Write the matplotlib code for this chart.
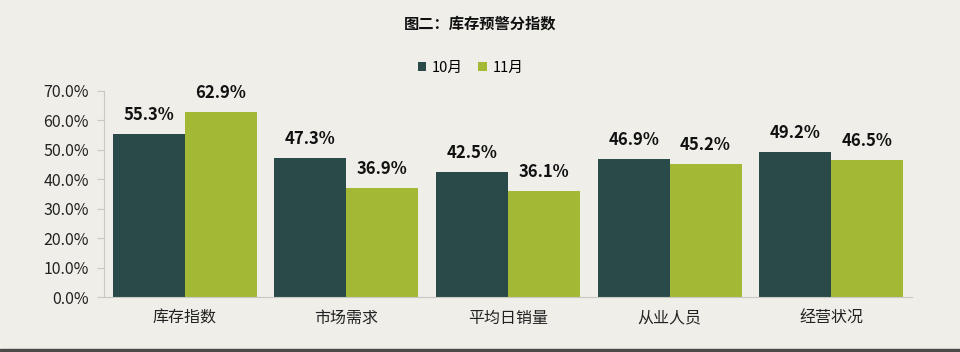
import numpy as np
import matplotlib.pyplot as plt
from matplotlib.patches import Rectangle

plt.rcParams['font.family'] = ['Noto Sans CJK SC', 'DejaVu Sans']

# data
categories = ['库存指数', '市场需求', '平均日销量', '从业人员', '经营状况']
oct_vals = [55.3, 47.3, 42.5, 46.9, 49.2]
nov_vals = [62.9, 36.9, 36.1, 45.2, 46.5]
series_names = ['10月', '11月']

dark = '#294a48'
green = '#a3b935'
bg = '#efeee9'

fig = plt.figure(figsize=(9.6, 3.52), dpi=100, facecolor=bg)
ax = fig.add_axes([0.1083, 0.156, 0.8417, 0.586])
ax.set_facecolor(bg)

x = np.arange(len(categories))
w = 0.445
b1 = ax.bar(x - w / 2, oct_vals, w, color=dark, label=series_names[0])
b2 = ax.bar(x + w / 2, nov_vals, w, color=green, label=series_names[1])

for bars, vals in ((b1, oct_vals), (b2, nov_vals)):
    for r, v in zip(bars, vals):
        ax.text(r.get_x() + r.get_width() / 2, v + 3.4, f'{v:.1f}%',
                ha='center', va='bottom', fontsize=12, fontweight='bold',
                color='#111111')

ax.set_xlim(-0.5, len(categories) - 0.5)
ax.set_ylim(0, 70)
ax.set_yticks(np.arange(0, 71, 10))
ax.set_yticklabels([f'{t:.1f}%' for t in range(0, 71, 10)], fontsize=11.5, color='#222222')
ax.set_xticks(x)
ax.set_xticklabels(categories, fontsize=11.5, color='#222222')
ax.tick_params(axis='x', length=0, pad=9)
ax.tick_params(axis='y', length=5, color='#c8c8c4', pad=6)

for s in ('top', 'right'):
    ax.spines[s].set_visible(False)
ax.spines['left'].set_color('#c8c8c4')
ax.spines['bottom'].set_color('#c8c8c4')

fig.text(0.5, 0.932, '图二：库存预警分指数', ha='center', va='center',
         fontsize=11, fontweight='bold', color='#111111')
fig.legend(loc='center', bbox_to_anchor=(0.49, 0.807), ncol=2, frameon=False,
           fontsize=10.5, handlelength=0.6, handleheight=0.6,
           handletextpad=0.4, columnspacing=1.0)

# dark strip along the bottom edge
fig.patches.append(Rectangle((0, 0), 1, 0.009, transform=fig.transFigure,
                             color='#4a4a48', zorder=0))

fig.savefig('out.png', dpi=100, facecolor=bg)
